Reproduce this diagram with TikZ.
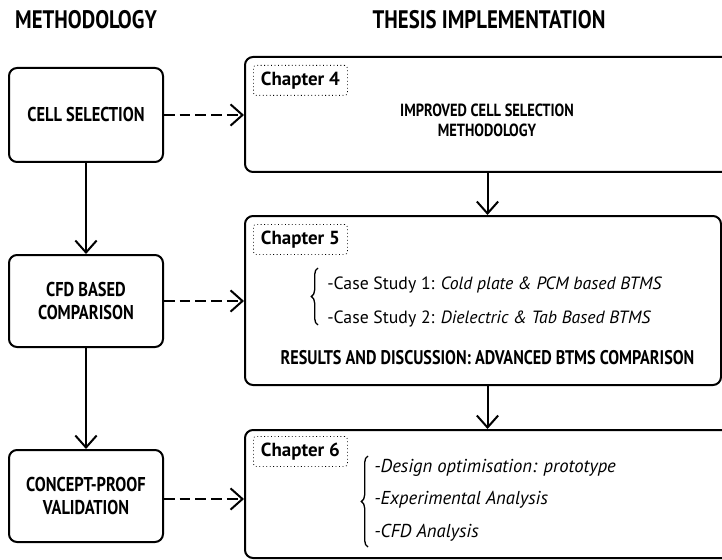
\documentclass[tikz,border=0pt]{standalone}
\usepackage{fontspec}
\setmainfont[FakeStretch=0.82]{PT Sans}
\newfontfamily\widefont{PT Sans}
\usetikzlibrary{arrows.meta,decorations.pathreplacing}
\tikzset{
  box/.style={draw, line width=1.5pt, rounded corners=6pt, inner sep=0pt},
  lbox/.style={box, minimum width=115.5pt, minimum height=69pt, align=center, font=\fontsize{15}{17.5}\selectfont\bfseries},
  chap/.style={draw, dotted, line width=0.6pt, rounded corners=2pt, minimum width=70.5pt, minimum height=22.5pt, inner sep=0pt, anchor=north west, font=\widefont\fontsize{14.2}{15}\selectfont\bfseries},
  head/.style={font=\fontsize{19}{20}\selectfont\bfseries},
  btext/.style={font=\fontsize{13.2}{15}\selectfont\bfseries, align=center},
  itext/.style={font=\widefont\fontsize{13.3}{15}\selectfont, anchor=base west, inner sep=0pt},
  jtext/.style={itext, font=\widefont\fontsize{14}{15}\selectfont\itshape},
  arr/.style={line width=1.5pt, -{Straight Barb[length=9pt,width=16pt]}},
  darr/.style={arr, dash pattern=on 8pt off 3.8pt},
  bracestyle/.style={line width=1pt, decorate, decoration={brace, amplitude=5pt}}
}
\begin{document}
\begin{tikzpicture}[x=0.75pt,y=-0.75pt]
\useasboundingbox (0,0) rectangle (722,560);
\clip (0,0) rectangle (722,560);

% headings
\node[head] (h1) at (86,20) {METHODOLOGY};
\node[head] (h2) at (489,20) {THESIS IMPLEMENTATION};

% left boxes
\node[lbox, minimum height=70.5pt] (L1) at (86,115) {CELL SELECTION};
\node[lbox] (L2) at (86,301) {CFD BASED\\COMPARISON};
\node[lbox] (L3) at (86,496) {CONCEPT-PROOF\\VALIDATION};

% right boxes
\node[box, minimum width=363.75pt, minimum height=86.25pt] (R1) at (487.5,114.5) {};
\node[box, minimum width=357pt, minimum height=126.75pt] (R2) at (483,300.5) {};
\node[box, minimum width=363.75pt, minimum height=96pt] (R3) at (487.5,494) {};

% chapter labels
\node[chap] (c4) at (253,65) {Chapter 4};
\node[chap] (c5) at (253,224) {Chapter 5};
\node[chap] (c6) at (253,436) {Chapter 6};

% R1 text
\node[btext] (t1) at (487,120) {IMPROVED CELL SELECTION\\METHODOLOGY};

% R2 text
\node[itext] (t21) at (327,289) {-Case Study 1: \textit{Cold plate \& PCM based BTMS}};
\node[itext] (t22) at (327,323) {-Case Study 2: \textit{Dielectric \& Tab Based BTMS}};
\node[btext, font=\fontsize{14.8}{16}\selectfont\bfseries] (t23) at (487.5,358) {RESULTS AND DISCUSSION: ADVANCED BTMS COMPARISON};
\draw[bracestyle] (318,325) -- (318,268);

% R3 text
\node[jtext] (t31) at (374,472) {-Design optimisation: prototype};
\node[jtext] (t32) at (374,504) {-Experimental Analysis};
\node[jtext] (t33) at (374,537) {-CFD Analysis};
\draw[bracestyle] (368,547) -- (368,456);

% connectors
\draw[arr] (L1.south) -- (L2.north);
\draw[arr] (L2.south) -- (L3.north);
\draw[arr] (R1.south) -- (R1.south |- R2.north);
\draw[arr] (R1.south |- R2.south) -- (R1.south |- R3.north);
\draw[darr] (L1.east) -- (L1.east -| R1.west);
\draw[darr] (L2.east) -- (L2.east -| R2.west);
\draw[darr] ([yshift=-2.25pt]L3.east) -- ([yshift=-2.25pt]L3.east -| R3.west);
\end{tikzpicture}
\end{document}
